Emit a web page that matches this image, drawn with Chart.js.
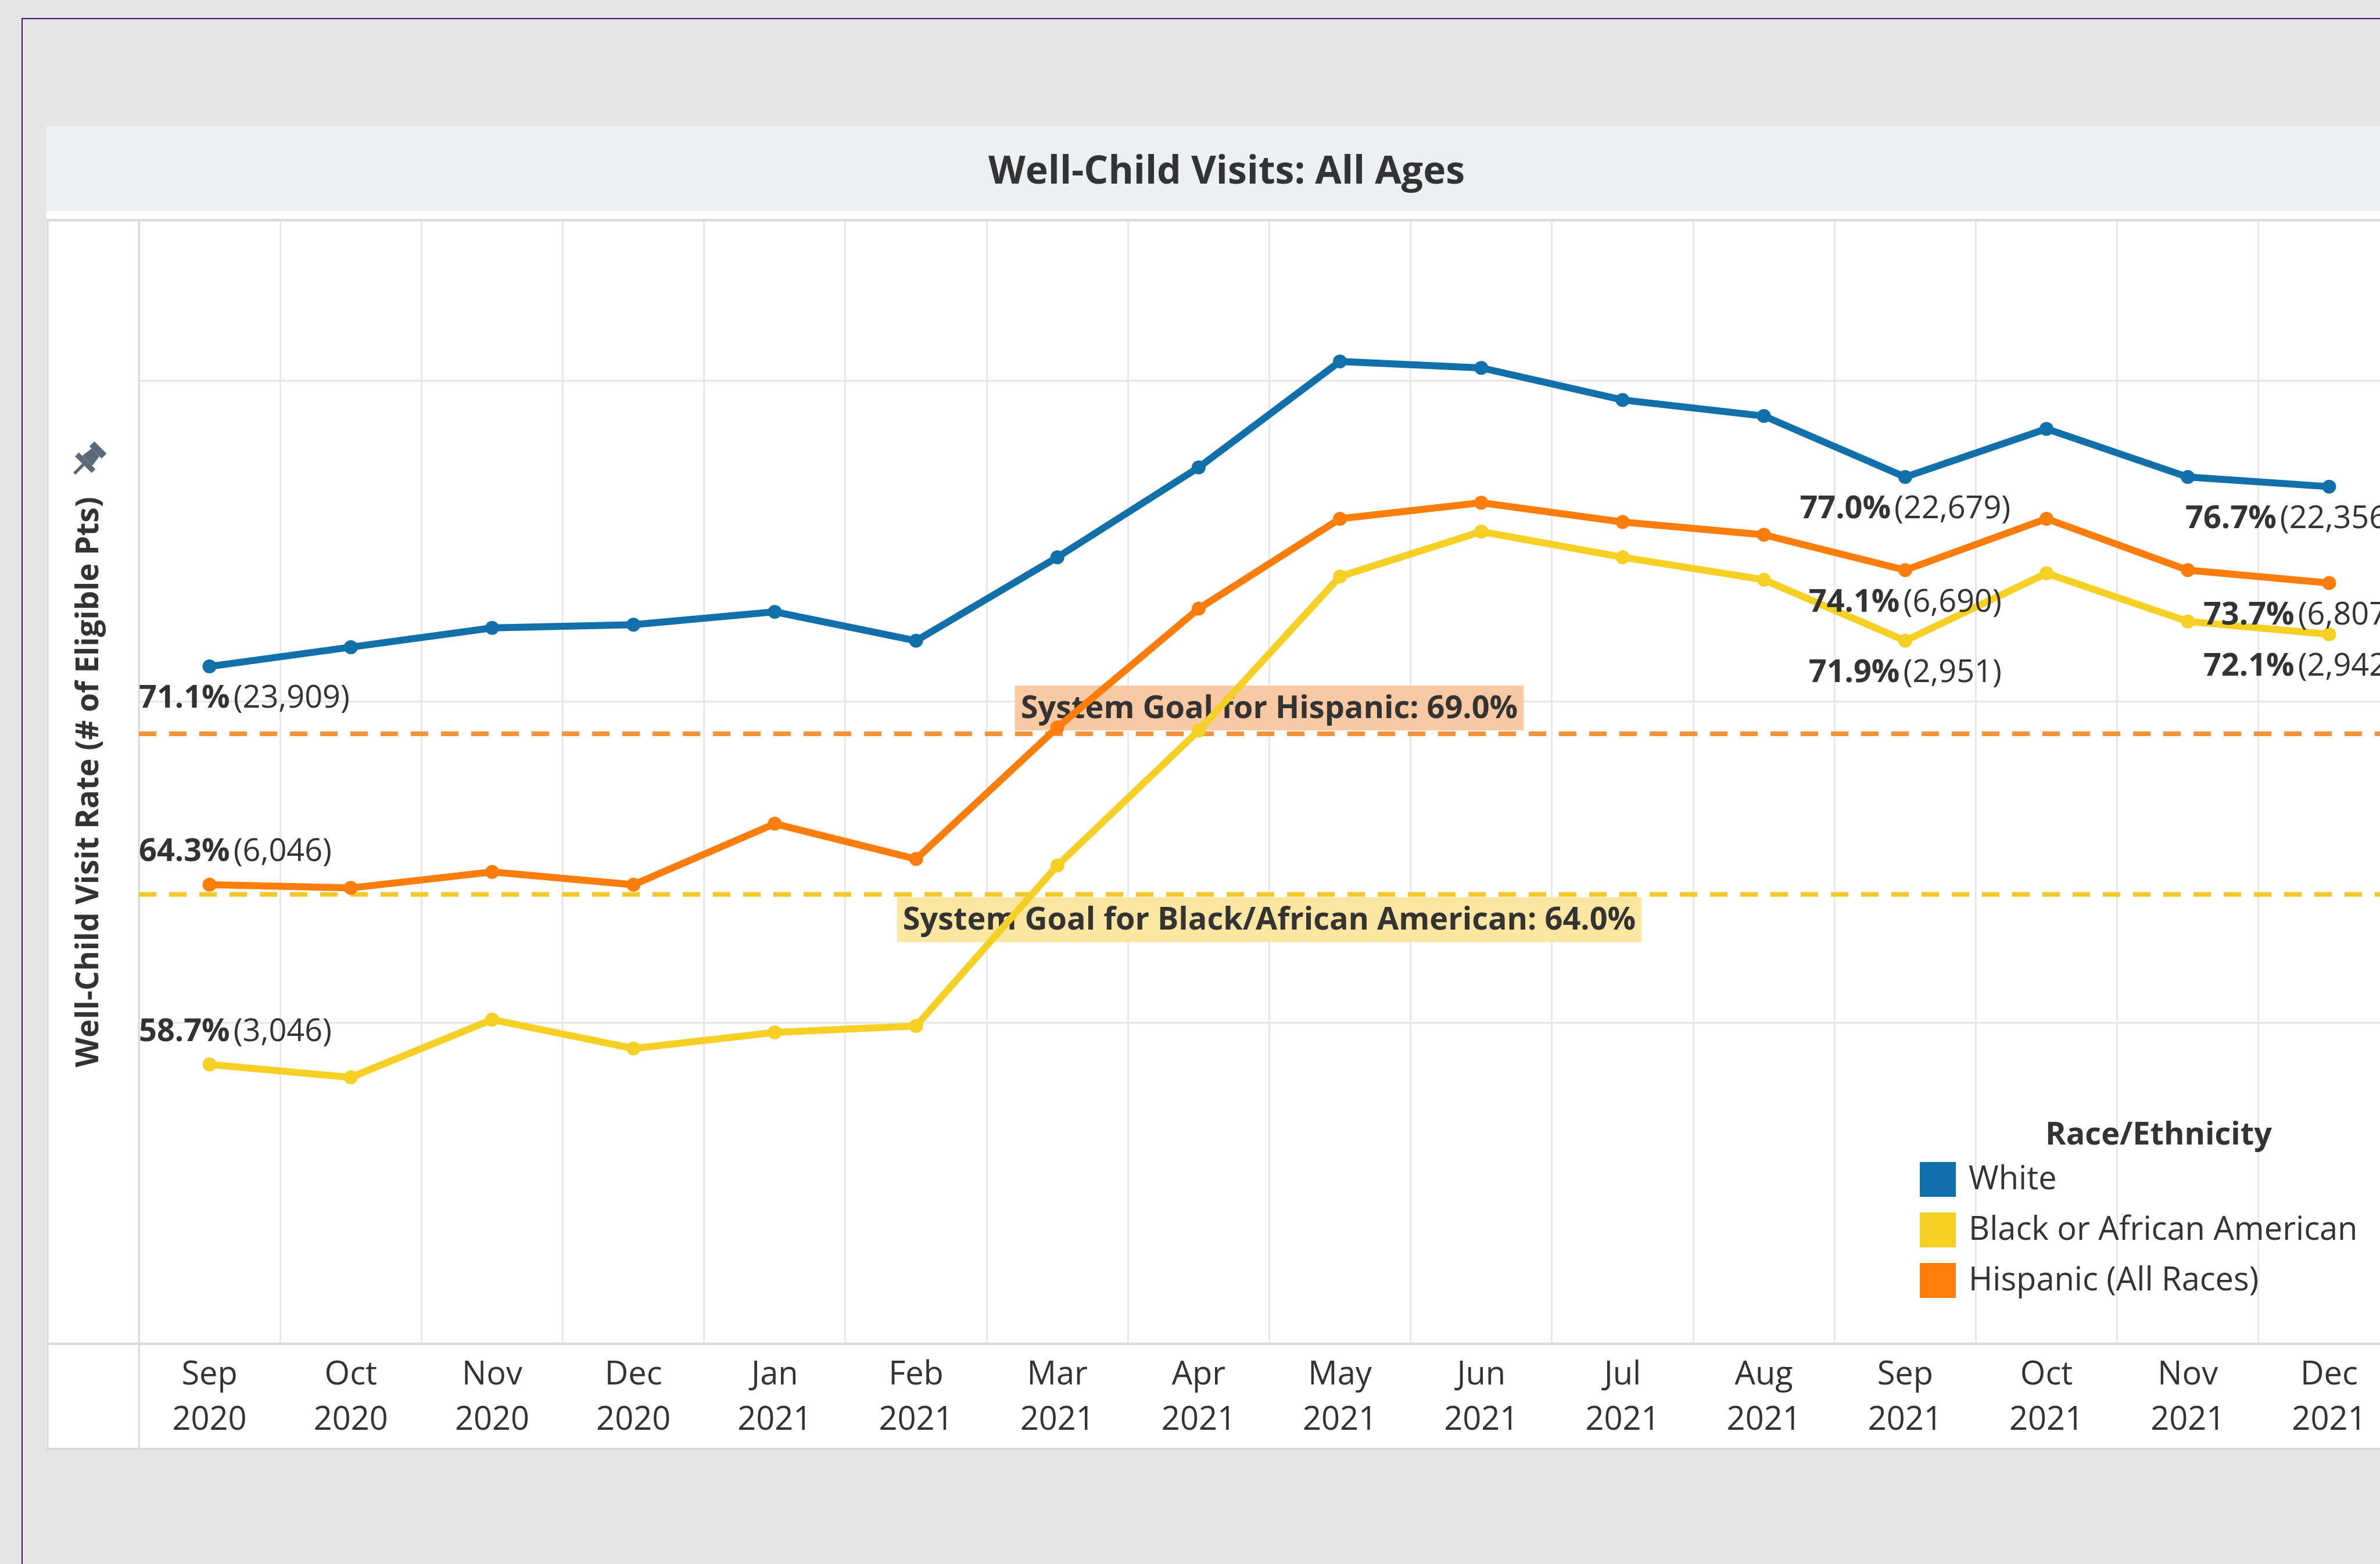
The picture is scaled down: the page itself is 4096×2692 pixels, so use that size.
<!DOCTYPE html>
<html>
<head>
<meta charset="utf-8">
<title>Well-Child Visits: All Ages</title>
<script src="https://cdn.jsdelivr.net/npm/chart.js@4.4.1/dist/chart.umd.min.js"></script>
<style>
  html, body { margin: 0; padding: 0; }
  body {
    width: 4096px; height: 2692px; overflow: hidden; position: relative;
    background: #e5e5e5; font-family: 'Open Sans', 'Noto Sans', sans-serif;
  }
  #frame {
    position: absolute; left: 37px; top: 31px; width: 5000px; height: 5000px;
    border-top: 2px solid #3f1477; border-left: 2px solid #3f1477;
  }
  #panel { position: absolute; left: 80px; top: 217px; width: 4062px; height: 2277px; background: #fff; }
  #titlebar {
    height: 146px; line-height: 146px; background: #edf0f3; text-align: center;
    font-weight: bold; font-size: 66px; color: #333;
  }
  #chart { position: absolute; left: 80px; top: 365px; }
</style>
</head>
<body>
<div id="frame"></div>
<div id="panel"><div id="titlebar">Well-Child Visits: All Ages</div></div>
<canvas id="chart" width="4062" height="2133"></canvas>
<script>
const months = ['Sep', 'Oct', 'Nov', 'Dec', 'Jan', 'Feb', 'Mar', 'Apr', 'May', 'Jun', 'Jul', 'Aug', 'Sep', 'Oct', 'Nov', 'Dec'];
const years = ['2020', '2020', '2020', '2020', '2021', '2021', '2021', '2021', '2021', '2021', '2021', '2021', '2021', '2021', '2021', '2021'];

// visit rate in %
const whiteRate = [71.1, 71.7, 72.3, 72.4, 72.8, 71.9, 74.5, 77.3, 80.6, 80.4, 79.4, 78.9, 77.0, 78.5, 77.0, 76.7];
const blackRate = [58.7, 58.3, 60.1, 59.2, 59.7, 59.9, 64.9, 69.1, 73.9, 75.3, 74.5, 73.8, 71.9, 74.0, 72.5, 72.1];
const hispanicRate = [64.3, 64.2, 64.7, 64.3, 66.2, 65.1, 69.2, 72.9, 75.7, 76.2, 75.6, 75.2, 74.1, 75.7, 74.1, 73.7];

// eligible patients, only shown on the labelled months
const labelMonths = [0, 12, 15];
const whiteCounts = [23909, 22679, 22356];
const blackCounts = [3046, 2951, 2942];
const hispanicCounts = [6046, 6690, 6807];

const goalHispanic = 69.0;
const goalBlack = 64.0;

const chartFont = "'Open Sans', 'Noto Sans', sans-serif";
const textColor = '#333333';

// panel borders, goal lines and their boxes, under the series
const backdrop = {
  id: 'backdrop',
  beforeDatasetsDraw(chart, args, opts) {
    const {ctx, chartArea: a, width, height, scales: {y}} = chart;
    const bottom = height - 4;
    ctx.save();
    ctx.strokeStyle = '#d9d9d9';
    ctx.lineWidth = 4;
    ctx.beginPath();
    ctx.moveTo(0, a.top); ctx.lineTo(width, a.top);
    ctx.moveTo(0, a.bottom); ctx.lineTo(width, a.bottom);
    ctx.moveTo(0, bottom); ctx.lineTo(width, bottom);
    ctx.stroke();
    ctx.lineWidth = 3;
    ctx.beginPath();
    ctx.moveTo(2, a.top); ctx.lineTo(2, bottom);
    ctx.moveTo(a.left, a.top); ctx.lineTo(a.left, bottom);
    ctx.stroke();

    opts.goals.forEach(g => {
      const py = y.getPixelForValue(g.value);
      ctx.font = `bold 54px ${chartFont}`;
      const tw = ctx.measureText(g.text).width;
      const cx = (a.left + a.right) / 2;
      const bh = 77;
      const by = g.above ? py - 6 - bh : py + 5;
      ctx.fillStyle = g.boxColor;
      ctx.fillRect(cx - tw / 2 - 10, by, tw + 20, bh);
      ctx.fillStyle = textColor;
      ctx.textAlign = 'center';
      ctx.textBaseline = 'middle';
      ctx.fillText(g.text, cx, by + bh / 2 + 2);
      ctx.strokeStyle = g.color;
      ctx.lineWidth = 8;
      ctx.setLineDash([30, 22]);
      ctx.beginPath();
      ctx.moveTo(a.left, py); ctx.lineTo(a.right, py);
      ctx.stroke();
      ctx.setLineDash([]);
    });
    ctx.restore();
  }
};

// "71.1% (23,909)" labels, kept inside the plot
const pointLabels = {
  id: 'pointLabels',
  afterDatasetsDraw(chart) {
    const {ctx, chartArea: a} = chart;
    ctx.save();
    ctx.textBaseline = 'middle';
    ctx.textAlign = 'left';
    ctx.fillStyle = textColor;
    chart.data.datasets.forEach((ds, di) => {
      const meta = chart.getDatasetMeta(di);
      labelMonths.forEach((idx, k) => {
        const pt = meta.data[idx];
        const pct = ds.data[idx].toFixed(1) + '%';
        const cnt = '(' + ds.counts[k].toLocaleString('en-US') + ')';
        ctx.font = `bold 54px ${chartFont}`;
        const w1 = ctx.measureText(pct).width;
        ctx.font = `54px ${chartFont}`;
        const w2 = ctx.measureText(cnt).width;
        const gap = 6;
        const w = w1 + gap + w2;
        let x0 = pt.x - w / 2;
        x0 = Math.max(a.left, Math.min(x0, a.right - 6 - w));
        const ly = pt.y + (ds.labelAbove[k] ? -56 : 56);
        ctx.font = `bold 54px ${chartFont}`;
        ctx.fillText(pct, x0, ly);
        ctx.font = `54px ${chartFont}`;
        ctx.fillText(cnt, x0 + w1 + gap, ly);
      });
    });
    ctx.restore();
  }
};

// legend inside the plot + pin next to axis title
const sideLegend = {
  id: 'sideLegend',
  afterDraw(chart) {
    const {ctx, chartArea: a} = chart;
    const x0 = a.right - 826, top = a.bottom - 313;
    ctx.save();
    ctx.fillStyle = textColor;
    ctx.textBaseline = 'middle';
    ctx.textAlign = 'center';
    ctx.font = `bold 54px ${chartFont}`;
    ctx.fillText('Race/Ethnicity', a.right - 415, a.bottom - 358);
    ctx.textAlign = 'left';
    ctx.font = `56px ${chartFont}`;
    chart.data.datasets.forEach((ds, i) => {
      const ty = top + i * 87;
      ctx.fillStyle = ds.borderColor;
      ctx.fillRect(x0, ty, 62, 60);
      ctx.fillStyle = textColor;
      ctx.fillText(ds.label, x0 + 84, ty + 31);
    });

    // pin
    ctx.font = `bold 53px ${chartFont}`;
    const tw = ctx.measureText(chart.options.scales.y.title.text).width;
    const px = 70, py = (a.top + a.bottom) / 2 - tw / 2 - 62;
    ctx.translate(px, py);
    ctx.rotate(Math.PI / 4);
    ctx.scale(1.35, 1.35);
    ctx.fillStyle = '#5b6878';
    ctx.fillRect(-11, -24, 22, 9);
    ctx.beginPath();
    ctx.moveTo(-7, -15); ctx.lineTo(7, -15); ctx.lineTo(9, 0); ctx.lineTo(-9, 0);
    ctx.closePath(); ctx.fill();
    ctx.fillRect(-15, 0, 30, 7);
    ctx.fillRect(-2, 7, 4, 16);
    ctx.restore();
  }
};

const categories = months.map((m, i) => [m, years[i]]);

(async function() {
  await Promise.all([
    document.fonts.load(`bold 54px ${chartFont}`),
    document.fonts.load(`54px ${chartFont}`)
  ]);

  new Chart(document.getElementById('chart'), {
    type: 'line',
    data: {
      labels: categories,
      datasets: [
        {
          label: 'White',
          data: whiteRate,
          counts: whiteCounts,
          labelAbove: [false, false, false],
          borderColor: '#1170aa',
          backgroundColor: '#1170aa'
        },
        {
          label: 'Black or African American',
          data: blackRate,
          counts: blackCounts,
          labelAbove: [true, false, false],
          borderColor: '#f5cf24',
          backgroundColor: '#f5cf24'
        },
        {
          label: 'Hispanic (All Races)',
          data: hispanicRate,
          counts: hispanicCounts,
          labelAbove: [true, false, false],
          borderColor: '#fc7d0b',
          backgroundColor: '#fc7d0b'
        }
      ]
    },
    options: {
      responsive: false,
      animation: false,
      devicePixelRatio: 1,
      layout: { padding: { top: 14, right: 10, bottom: 4, left: 0 } },
      elements: {
        line: { borderWidth: 12, tension: 0 },
        point: { radius: 12, borderWidth: 0, hoverRadius: 12 }
      },
      plugins: {
        legend: { display: false },
        tooltip: { enabled: false },
        backdrop: {
          goals: [
            { value: goalHispanic, text: `System Goal for Hispanic: ${goalHispanic.toFixed(1)}%`,
              color: '#f6923a', boxColor: '#f9c9a3', above: true },
            { value: goalBlack, text: `System Goal for Black/African American: ${goalBlack.toFixed(1)}%`,
              color: '#f2c72b', boxColor: '#fbe6a1', above: false }
          ]
        }
      },
      scales: {
        x: {
          offset: true,
          grid: { offset: true, color: '#e8e8e8', lineWidth: 3, drawTicks: false },
          border: { display: false },
          ticks: {
            padding: 15,
            color: textColor,
            maxRotation: 0,
            autoSkip: false,
            font: { family: chartFont, size: 56, lineHeight: 1.39 }
          },
          afterFit(scale) { scale.height = 181; }
        },
        y: {
          min: 50,
          max: 85,
          ticks: { display: false, stepSize: 10 },
          grid: { color: '#e6e6e6', lineWidth: 3, drawTicks: false },
          border: { display: false },
          title: {
            display: true,
            text: 'Well-Child Visit Rate (# of Eligible Pts)',
            color: textColor,
            font: { family: chartFont, size: 53, weight: 'bold' },
            padding: { top: 42, bottom: 0 }
          },
          afterFit(scale) { scale.width = 159; }
        }
      }
    },
    plugins: [backdrop, pointLabels, sideLegend]
  });
})();
</script>
</body>
</html>
